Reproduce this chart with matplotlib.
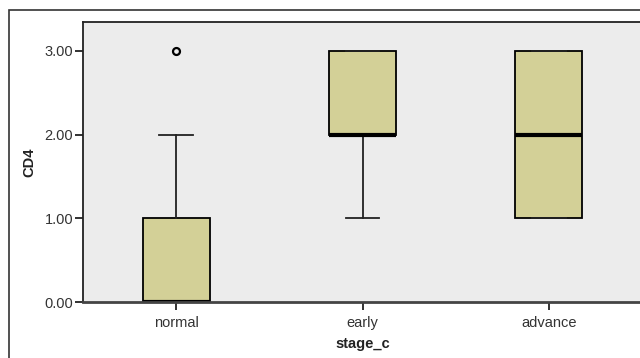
import matplotlib
matplotlib.use('Agg')
import matplotlib.pyplot as plt
from matplotlib.patches import Rectangle

plt.rcParams['font.family'] = ['Liberation Sans', 'DejaVu Sans']

# Box plot summary values
stages = ['normal', 'early', 'advance']
q1 = [0.0, 2.0, 1.0]
medians = [0.0, 2.0, 2.0]
q3 = [1.0, 3.0, 3.0]
whisker_low = [0.0, 1.0, 1.0]
whisker_high = [2.0, 3.0, 3.0]
outliers = [[3.0], [], []]
yticks = [0.0, 1.0, 2.0, 3.0]

stats = []
for i, name in enumerate(stages):
    stats.append({'label': name, 'q1': q1[i], 'med': medians[i], 'q3': q3[i],
                  'whislo': whisker_low[i], 'whishi': whisker_high[i],
                  'fliers': outliers[i]})

fig = plt.figure(figsize=(6.4, 3.58), dpi=100)
fig.patch.set_facecolor('white')

# outer frame of the SPSS output (cut off by the image edges)
fig.add_artist(Rectangle((9 / 640, -0.2), 1.2, 1.2 + (358 - 10) / 358 - 1.0,
                         transform=fig.transFigure, fill=False,
                         edgecolor='#333333', linewidth=1.2))

ax = fig.add_axes([83 / 640, 56 / 358, 559 / 640, 279.5 / 358])
ax.set_facecolor('#ececec')

ax.bxp(stats, positions=range(len(stages)), widths=0.36, patch_artist=True,
       showfliers=True, capwidths=0.18,
       boxprops=dict(facecolor='#d3d097', edgecolor='black', linewidth=1.3),
       medianprops=dict(color='black', linewidth=3.0),
       whiskerprops=dict(color='#222222', linewidth=1.3),
       capprops=dict(color='#222222', linewidth=1.3),
       flierprops=dict(marker='o', markerfacecolor='none', markeredgecolor='black',
                       markersize=5, markeredgewidth=1.6))

ax.set_xlim(-0.5, 2.5)
ax.set_ylim(0, 3.34)
ax.set_yticks(yticks)
ax.set_yticklabels(['%.2f' % v for v in yticks])
ax.set_xticks(range(len(stages)))
ax.set_xticklabels(stages)

for side in ['top', 'left']:
    ax.spines[side].set_color('#222222')
    ax.spines[side].set_linewidth(1.3)
ax.spines['bottom'].set_color('#444444')
ax.spines['bottom'].set_linewidth(2.0)
ax.spines['right'].set_visible(False)

ax.tick_params(axis='both', colors='#222222', labelcolor='#333333', labelsize=10.5,
               length=6, width=1.3, direction='out')
ax.tick_params(axis='x', pad=4)
ax.tick_params(axis='y', pad=1)

ax.set_xlabel('stage_c', fontsize=10.5, fontweight='bold', color='#222222', labelpad=5)
ax.set_ylabel('CD4', fontsize=10.5, fontweight='bold', color='#222222', labelpad=6)

fig.savefig('out.png', dpi=100)
